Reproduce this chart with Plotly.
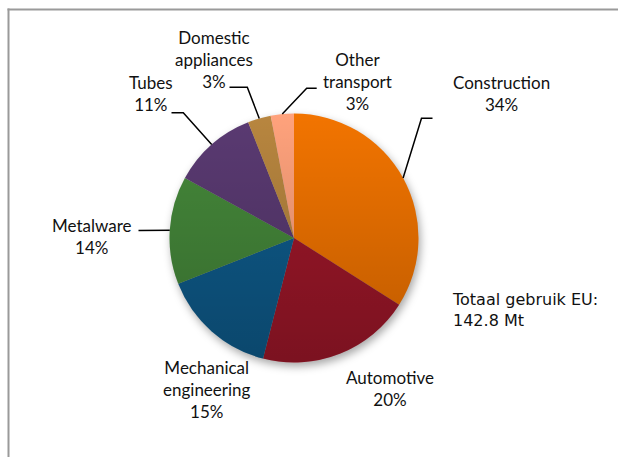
import math
import base64
import plotly.graph_objects as go

# Steel end use in the EU by sector (share of total, %)
sectors = ["Construction", "Automotive", "Mechanical engineering", "Metalware",
           "Tubes", "Domestic appliances", "Other transport"]
shares = [34, 20, 15, 14, 11, 3, 3]
label_text = ["Construction", "Automotive", "Mechanical<br>engineering", "Metalware",
              "Tubes", "Domestic<br>appliances", "Other<br>transport"]
colors = ["#F27400", "#9E1729", "#0E5B8B", "#45883A", "#5A3A72", "#B8863F", "#FFA27C"]
total_note = "Totaal gebruik EU:<br>142.8 Mt"

W, H = 618, 457
CX, CY, R = 294.0, 238.0, 124.5


def px(x):
    return x / W


def py(y):
    return 1 - y / H


fig = go.Figure()
fig.add_trace(go.Pie(
    labels=sectors, values=shares, sort=False, direction="clockwise", rotation=0,
    marker=dict(colors=colors, line=dict(width=0)),
    textinfo="none", hoverinfo="label+percent", showlegend=False,
    domain=dict(x=[px(CX - R), px(CX + R)], y=[py(CY + R), py(CY - R)]),
))

# label placement (text centre) and leader-line elbow / end for each sector
label_pos = {
    "Construction": (501, 93.5),
    "Automotive": (390, 388.5),
    "Mechanical engineering": (207, 389),
    "Metalware": (92, 236.5),
    "Tubes": (151, 93.5),
    "Domestic appliances": (214, 59),
    "Other transport": (357, 82),
}
leaders = {
    "Construction": [(421.5, 118.3), (432.5, 118.3)],
    "Metalware": [(138.5, 230.5)],
    "Tubes": [(183.3, 112.7), (171.5, 112.7)],
    "Domestic appliances": [(247.3, 87.3), (229.5, 87.3)],
    "Other transport": [(306.7, 88.3), (316.7, 88.3)],
}

total = sum(shares)
cum = 0.0
shapes = []
annotations = []
for name, txt, val in zip(sectors, label_text, shares):
    mid = (cum + val / 2) / total * 2 * math.pi
    cum += val
    ex, ey = CX + R * math.sin(mid), CY - R * math.cos(mid)
    lx, ly = label_pos[name]
    pct = round(val / total * 100)
    annotations.append(dict(
        x=px(lx), y=py(ly), xref="paper", yref="paper", showarrow=False,
        text=f"{txt}<br>{pct}%", align="center", xanchor="center", yanchor="middle",
        font=dict(family="Lato", size=17, color="#111111"),
    ))
    if name in leaders:
        pts = [(ex, ey)] + leaders[name]
        path = "M " + " L ".join(f"{px(x):.5f},{py(y):.5f}" for x, y in pts)
        shapes.append(dict(type="path", path=path, xref="paper", yref="paper",
                           line=dict(color="#000000", width=1.5)))

annotations.append(dict(
    x=px(450), y=py(310), xref="paper", yref="paper", showarrow=False,
    text=total_note, align="left", xanchor="left", yanchor="middle",
    font=dict(family="DejaVu Sans", size=16, color="#111111"),
))

# chart-area frame (top and left edges)
shapes.append(dict(type="line", xref="paper", yref="paper",
                   x0=px(8.5), x1=px(8.5), y0=0, y1=py(8.5),
                   line=dict(color="#9A9A9A", width=2)))
shapes.append(dict(type="line", xref="paper", yref="paper",
                   x0=px(7.5), x1=1, y0=py(9.5), y1=py(9.5),
                   line=dict(color="#9A9A9A", width=2)))

# soft drop shadow behind the pie and a vertical shading over it
S = 2 * R + 40
shadow_svg = f"""<svg xmlns='http://www.w3.org/2000/svg' width='{S}' height='{S}'>
<defs><filter id='b' x='-20%' y='-20%' width='140%' height='140%'><feGaussianBlur stdDeviation='4'/></filter></defs>
<circle cx='{S/2 + 2}' cy='{S/2 + 4}' r='{R}' fill='rgba(0,0,0,0.35)' filter='url(#b)'/></svg>"""
shade_svg = f"""<svg xmlns='http://www.w3.org/2000/svg' width='{2*R}' height='{2*R}'>
<defs><linearGradient id='g' x1='0' y1='0' x2='0' y2='1'>
<stop offset='0' stop-color='#000' stop-opacity='0'/><stop offset='1' stop-color='#000' stop-opacity='0.22'/>
</linearGradient></defs><circle cx='{R}' cy='{R}' r='{R}' fill='url(#g)'/></svg>"""


def uri(svg):
    return "data:image/svg+xml;base64," + base64.b64encode(svg.encode()).decode()


images = [
    dict(source=uri(shadow_svg), xref="paper", yref="paper", x=px(CX - S / 2), y=py(CY - S / 2),
         sizex=px(S), sizey=S / H, xanchor="left", yanchor="top", sizing="stretch", layer="below"),
    dict(source=uri(shade_svg), xref="paper", yref="paper", x=px(CX - R), y=py(CY - R),
         sizex=px(2 * R), sizey=2 * R / H, xanchor="left", yanchor="top", sizing="stretch", layer="above"),
]

fig.update_layout(
    width=W, height=H, margin=dict(l=0, r=0, t=0, b=0),
    paper_bgcolor="white", plot_bgcolor="white",
    shapes=shapes, annotations=annotations, images=images,
)
fig.write_html("out.html")
